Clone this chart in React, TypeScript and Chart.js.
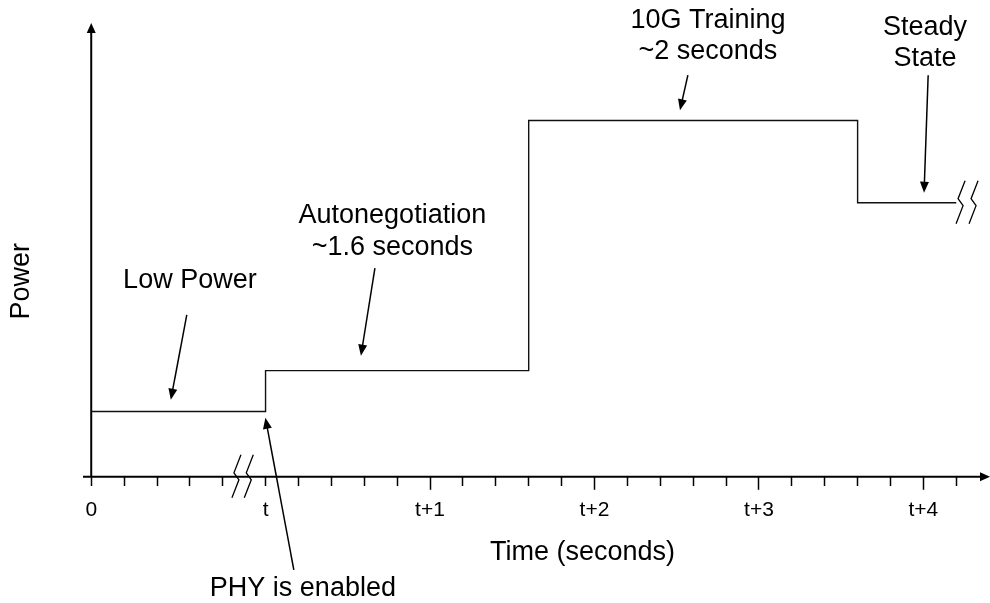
import { useEffect, useRef } from "react";
import { Chart, registerables } from "chart.js";

Chart.register(...registerables);

// ---- data ----
const PHASES = ["Low Power", "Autonegotiation", "10G Training", "Steady State"];
const PHASE_START = [-1.06, 0, 1.6, 3.6];
const PHASE_END = [0, 1.6, 3.6, 4.2];
const PHASE_POWER = [14.4, 23.4, 78.5, 60.4];

const TICK_VALUES = [-1.06, 0, 1, 2, 3, 4];
const TICK_LABELS = ["0", "t", "t+1", "t+2", "t+3", "t+4"];
const MINOR_TICK_VALUES = [
  -1.06, -0.86, -0.66, -0.46, -0.26, 0, 0.2, 0.4, 0.6, 0.8, 1, 1.2, 1.4, 1.6,
  1.8, 2, 2.2, 2.4, 2.6, 2.8, 3, 3.2, 3.4, 3.6, 3.8, 4, 4.2,
];
const LONG_TICK_VALUES = [1, 2, 3, 4];

const X_MIN = -1.11;
const X_MAX = 4.405;
const Y_MIN = 0;
const Y_MAX = 100;
const AXIS_ORIGIN_X = -1.06;

const X_TITLE = "Time (seconds)";
const X_TITLE_POS = [1.927, -18.3];
const Y_TITLE = "Power";
const Y_TITLE_POS = [-1.44, 43.1];

const NOTE_LINES = [
  ["Low Power"],
  ["Autonegotiation", "~1.6 seconds"],
  ["10G Training", "~2 seconds"],
  ["Steady", "State"],
  ["PHY is enabled"],
];
const NOTE_X = [-0.46, 0.771, 2.69, 4.01, 0.227];
const NOTE_Y = [41.7, 55.9, 98.9, 97.4, -26.3];

const ARROW_FROM_X = [-0.479, 0.665, 2.568, 4.029, 0.172];
const ARROW_FROM_Y = [35.7, 46.0, 88.5, 88.5, -20.5];
const ARROW_TO_X = [-0.576, 0.58, 2.52, 4.004, -0.001];
const ARROW_TO_Y = [17.0, 26.7, 80.8, 62.6, 13.0];

const BREAK_X = [-0.18, -0.105, 4.223, 4.302];
const BREAK_Y = [0, 0, 60.4, 60.4];

// ---- style ----
const FONT = '"Liberation Sans", Arial, Helvetica, sans-serif';
const NOTE_SIZE = 27;
const LINE_GAP = 31.5;

const near = (a: number, b: number) => Math.abs(a - b) < 1e-6;

function arrowHead(ctx: CanvasRenderingContext2D, x: number, y: number, ang: number, len: number, half: number) {
  ctx.beginPath();
  ctx.moveTo(x, y);
  ctx.lineTo(x - len * Math.cos(ang) - half * Math.sin(ang), y - len * Math.sin(ang) + half * Math.cos(ang));
  ctx.lineTo(x - len * Math.cos(ang) + half * Math.sin(ang), y - len * Math.sin(ang) - half * Math.cos(ang));
  ctx.closePath();
  ctx.fill();
}

const overlayPlugin = {
  id: "overlay",
  afterDatasetsDraw(chart: any) {
    const { ctx, chartArea } = chart;
    const xs = chart.scales.x;
    const ys = chart.scales.y;
    const px = (v: number) => xs.getPixelForValue(v);
    const py = (v: number) => ys.getPixelForValue(v);
    ctx.save();
    ctx.strokeStyle = "#000";
    ctx.fillStyle = "#000";

    // axes
    const ox = px(AXIS_ORIGIN_X);
    const oy = py(Y_MIN);
    ctx.lineWidth = 2;
    ctx.beginPath();
    ctx.moveTo(chartArea.left, oy);
    ctx.lineTo(chartArea.right - 6, oy);
    ctx.moveTo(ox, oy + 1);
    ctx.lineTo(ox, py(Y_MAX) + 6);
    ctx.stroke();
    arrowHead(ctx, chartArea.right, oy, 0, 10, 4.5);
    arrowHead(ctx, ox, py(Y_MAX), -Math.PI / 2, 10, 4.5);

    // break marks
    ctx.lineWidth = 1.3;
    const shape = [
      [5, -22],
      [-2, -4],
      [3, 3],
      [-4, 21],
    ];
    BREAK_X.forEach((bx, i) => {
      const cx = px(bx);
      const cy = py(BREAK_Y[i]);
      ctx.beginPath();
      shape.forEach(([dx, dy], k) => {
        if (k === 0) ctx.moveTo(cx + dx, cy + dy);
        else ctx.lineTo(cx + dx, cy + dy);
      });
      ctx.stroke();
    });

    // annotation arrows
    ctx.lineWidth = 1.5;
    ARROW_FROM_X.forEach((fx, i) => {
      const x1 = px(fx);
      const y1 = py(ARROW_FROM_Y[i]);
      const x2 = px(ARROW_TO_X[i]);
      const y2 = py(ARROW_TO_Y[i]);
      const ang = Math.atan2(y2 - y1, x2 - x1);
      const len = 11;
      ctx.beginPath();
      ctx.moveTo(x1, y1);
      ctx.lineTo(x2 - (len - 2) * Math.cos(ang), y2 - (len - 2) * Math.sin(ang));
      ctx.stroke();
      arrowHead(ctx, x2, y2, ang, len, 4.5);
    });

    // notes
    ctx.font = `${NOTE_SIZE}px ${FONT}`;
    ctx.textAlign = "center";
    ctx.textBaseline = "alphabetic";
    NOTE_LINES.forEach((lines, i) => {
      const x = px(NOTE_X[i]);
      const y = py(NOTE_Y[i]);
      lines.forEach((t, k) => ctx.fillText(t, x, y + k * LINE_GAP));
    });

    // axis titles
    ctx.fillText(X_TITLE, px(X_TITLE_POS[0]), py(X_TITLE_POS[1]));
    ctx.save();
    ctx.translate(px(Y_TITLE_POS[0]), py(Y_TITLE_POS[1]));
    ctx.rotate(-Math.PI / 2);
    ctx.fillText(Y_TITLE, 0, 0);
    ctx.restore();

    ctx.restore();
  },
};

export default function App() {
  const ref = useRef<HTMLCanvasElement>(null);

  useEffect(() => {
    document.body.style.margin = "0";
    const points: { x: number; y: number }[] = [];
    PHASES.forEach((_, i) => {
      points.push({ x: PHASE_START[i], y: PHASE_POWER[i] });
      points.push({ x: PHASE_END[i], y: PHASE_POWER[i] });
    });

    const chart = new Chart(ref.current as HTMLCanvasElement, {
      type: "line",
      data: {
        datasets: [
          {
            label: "Power",
            data: points,
            borderColor: "#111",
            borderWidth: 1.4,
            pointRadius: 0,
            tension: 0,
            fill: false,
            clip: false as any,
          },
        ],
      },
      options: {
        responsive: false,
        animation: false,
        devicePixelRatio: 1,
        layout: { padding: { left: 83, right: 0, top: 23, bottom: 72 } },
        plugins: {
          legend: { display: false },
          tooltip: { enabled: false },
        },
        scales: {
          x: {
            type: "linear",
            min: X_MIN,
            max: X_MAX,
            afterBuildTicks: (scale: any) => {
              scale.ticks = MINOR_TICK_VALUES.map((v) => ({ value: v }));
            },
            border: { display: false },
            grid: {
              display: true,
              drawOnChartArea: false,
              drawTicks: true,
              tickLength: 13,
              tickColor: "#000",
              tickWidth: 1.5,
              tickBorderDash: (c: any) =>
                c.tick && LONG_TICK_VALUES.some((v) => near(v, c.tick.value)) ? [] : [9, 30],
            } as any,
            ticks: {
              autoSkip: false,
              maxRotation: 0,
              minRotation: 0,
              padding: 8,
              color: "#000",
              font: { family: FONT, size: 21 },
              callback: (value: any) => {
                const idx = TICK_VALUES.findIndex((v) => near(v, Number(value)));
                return idx >= 0 ? TICK_LABELS[idx] : "";
              },
            },
          },
          y: {
            type: "linear",
            display: false,
            min: Y_MIN,
            max: Y_MAX,
          },
        },
      },
      plugins: [overlayPlugin],
    });
    return () => chart.destroy();
  }, []);

  return (
    <div style={{ width: 990, height: 603, background: "#fff" }}>
      <canvas ref={ref} width={990} height={603} style={{ display: "block" }} />
    </div>
  );
}
